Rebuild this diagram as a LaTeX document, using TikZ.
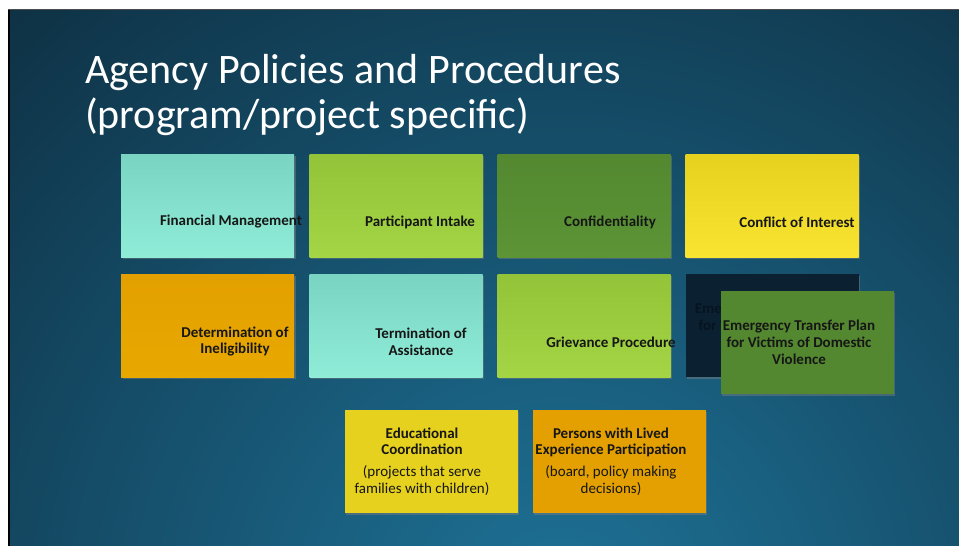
\documentclass[tikz,border=0pt]{standalone}
\usepackage{fontspec}
\setmainfont{Carlito}
\usetikzlibrary{shadows}

\definecolor{slidedark}{HTML}{0E2F42}
\definecolor{slidelight}{HTML}{1E7398}
\definecolor{aquatop}{HTML}{79D5C2}
\definecolor{aquabot}{HTML}{8FECD7}
\definecolor{limetop}{HTML}{93C338}
\definecolor{limebot}{HTML}{A3D545}
\definecolor{leaftop}{HTML}{538830}
\definecolor{leafbot}{HTML}{5C9436}
\definecolor{suntop}{HTML}{E6D11E}
\definecolor{sunbot}{HTML}{F9E531}
\definecolor{ambertop}{HTML}{E3A000}
\definecolor{amberbot}{HTML}{E8A800}
\definecolor{nightbox}{HTML}{0B2132}
\definecolor{nighttext}{HTML}{061320}
\definecolor{inktext}{HTML}{161616}

\begin{document}
\begin{tikzpicture}[x=1pt, y=-1pt,
        tile/.style={minimum width=173pt, minimum height=103pt, inner sep=0pt,
            drop shadow={shadow xshift=1.5pt, shadow yshift=-1.5pt, opacity=0.45}},
        tiletext/.style={font=\fontsize{15}{16.8}\selectfont\bfseries, text=inktext,
            align=center, inner sep=0pt},
        titletext/.style={font=\fontsize{42}{45}\selectfont, text=white,
            anchor=base west, inner sep=0pt}]
    % page edge and slide background
    \fill[white] (0,0) rectangle (959,546);
    \fill[black] (8,9) rectangle (10,546);
    \fill[gray!60!black] (8,9) rectangle (959,10);
    \begin{scope}
        \clip (10,10) rectangle (959,546);
        \shade[inner color=slidelight, outer color=slidedark] (560,620) circle (850);
    \end{scope}

    \node[titletext] (title) at (85,83) {Agency Policies and Procedures};
    \node[titletext] (subtitle) at (85,128) {(program/project specific)};

    % first row
    \node[tile, top color=aquatop, bottom color=aquabot] (financial) at (207.5,205.5) {};
    \node[tile, top color=limetop, bottom color=limebot] (intake) at (396,205.5) {};
    \node[tile, top color=leaftop, bottom color=leafbot] (confidential) at (584,205.5) {};
    \node[tile, top color=suntop, bottom color=sunbot] (conflict) at (772,205.5) {};
    \node[tiletext] (financialT) at ([shift={(23.5,16.5)}]financial.center) {Financial Management};
    \node[tiletext] (intakeT) at ([shift={(24,16.5)}]intake.center) {Participant Intake};
    \node[tiletext] (confidentialT) at ([shift={(26,16.5)}]confidential.center) {Confidentiality};
    \node[tiletext] (conflictT) at ([shift={(25,16.5)}]conflict.center) {Conflict of Interest};

    % second row
    \node[tile, top color=ambertop, bottom color=amberbot] (ineligible) at (207.5,325.5) {};
    \node[tile, top color=aquatop, bottom color=aquabot] (termination) at (396,325.5) {};
    \node[tile, top color=limetop, bottom color=limebot] (grievance) at (584,325.5) {};
    \node[tiletext] (ineligibleT) at ([shift={(27.5,16)}]ineligible.center) {Determination of\\Ineligibility};
    \node[tiletext] (terminationT) at ([shift={(25,16)}]termination.center) {Termination of\\Assistance};
    \node[tiletext] (grievanceT) at ([shift={(27,16.5)}]grievance.center) {Grievance Procedure};

    % emergency transfer tile over its dark copy
    \node[tile, fill=nightbox, drop shadow={opacity=0}] (transferOld) at (772,325.5) {};
    \node[tiletext, text=nighttext] (transferOldT) at ([shift={(-1,0)}]transferOld.center) {Emergency Transfer Plan\\for Victims of Domestic\\Violence};
    \node[tile, fill=leaftop] (transfer) at (807,342.5) {};
    \node[tiletext] (transferT) at ([shift={(-8,0)}]transfer.center) {Emergency Transfer Plan\\for Victims of Domestic\\Violence};

    % third row
    \node[tile, fill=suntop] (education) at (431,461.5) {};
    \node[tile, fill=ambertop] (lived) at (619,461.5) {};
    \node[tiletext] (educationT) at ([shift={(-9,0)}]education.center) {Educational\\Coordination\\[5pt]\mdseries(projects that serve\\\mdseries families with children)};
    \node[tiletext] (livedT) at ([shift={(-8,0)}]lived.center) {Persons with Lived\\Experience Participation\\[5pt]\mdseries(board, policy making\\\mdseries decisions)};
\end{tikzpicture}
\end{document}
